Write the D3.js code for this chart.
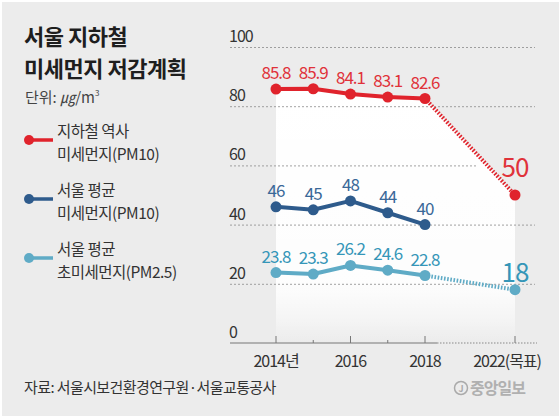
<!DOCTYPE html>
<html>
<head>
<meta charset="utf-8">
<script src="https://cdn.jsdelivr.net/npm/d3@7"></script>
<style>
  body { margin: 0; background: #fff; }
  svg text { font-family: "Noto Sans CJK KR", "Noto Sans", sans-serif; }
</style>
</head>
<body>
<div id="chart"></div>
<script>
// data
var years = [2014, 2015, 2016, 2017, 2018, 2022];
var subwayPM10 = [85.8, 85.9, 84.1, 83.1, 82.6, 50];
var seoulPM10 = [46, 45, 48, 44, 40];
var seoulPM25 = [23.8, 23.3, 26.2, 24.6, 22.8, 18];
var yTicks = [0, 20, 40, 60, 80, 100];
var xTickLabels = { 2014: '2014년', 2016: '2016', 2018: '2018', 2022: '2022(목표)' };

var W = 559, H = 416;
var bg = '#ececec';

var svg = d3.select('#chart').append('svg')
  .attr('width', W).attr('height', H);

svg.append('rect').attr('x', 2).attr('y', 2).attr('width', W - 2).attr('height', H - 2).attr('fill', bg);

// 2014-2018 evenly spaced, then a shorter stretch to the 2022 target
var x = d3.scaleLinear().domain([2014, 2018, 2022]).range([276, 425, 515]);
var y = d3.scaleLinear().domain([0, 100]).range([343, 47]);

var defs = svg.append('defs');
var grad = defs.append('linearGradient').attr('id', 'fade')
  .attr('x1', 0).attr('y1', 0).attr('x2', 0).attr('y2', 1);
grad.append('stop').attr('offset', '0%').attr('stop-color', '#fff').attr('stop-opacity', 1);
grad.append('stop').attr('offset', '75%').attr('stop-color', '#fff').attr('stop-opacity', 0.9);
grad.append('stop').attr('offset', '100%').attr('stop-color', '#fff').attr('stop-opacity', 0);

var grad2 = defs.append('linearGradient').attr('id', 'fade2')
  .attr('x1', 0).attr('y1', 0).attr('x2', 0).attr('y2', 1);
grad2.append('stop').attr('offset', '0%').attr('stop-color', '#fff').attr('stop-opacity', 0.5);
grad2.append('stop').attr('offset', '100%').attr('stop-color', '#fff').attr('stop-opacity', 0);

var pts = function (vals) {
  return vals.map(function (v, i) { return { yr: years[i], v: v }; });
};
var red = pts(subwayPM10), blue = pts(seoulPM10), light = pts(seoulPM25);

// white fading area under the lines
var area = d3.area().x(function (d) { return x(d.yr); }).y0(y(0)).y1(function (d) { return y(d.v); });
svg.append('path').attr('d', area(red)).attr('fill', 'url(#fade)');
svg.append('path').attr('d', area(light)).attr('fill', 'url(#fade2)');

// grid lines
var gridEnd = function (t) {
  if (t === 60) {
    // stop before the "50" label
    return x(2018) + (x(2022) - x(2018)) * (subwayPM10[4] - 60) / (subwayPM10[4] - subwayPM10[5]) - 10;
  }
  return 535;
};
svg.selectAll('.grid').data(yTicks.filter(function (t) { return t > 0; })).enter()
  .append('line')
  .attr('x1', 230).attr('x2', gridEnd)
  .attr('y1', function (d) { return y(d) + 0.5; }).attr('y2', function (d) { return y(d) + 0.5; })
  .attr('stroke', '#8a8a8a').attr('stroke-width', 0.8).attr('stroke-dasharray', '2,2');

svg.selectAll('.ylab').data(yTicks).enter()
  .append('text')
  .attr('x', 229).attr('y', function (d) { return y(d) - 5; })
  .attr('font-size', 16).attr('fill', '#333').attr('letter-spacing', -1)
  .text(function (d) { return d; });

// x axis: solid up to 2018, dotted after
svg.append('line').attr('x1', 230).attr('x2', x(2018) + 12)
  .attr('y1', y(0)).attr('y2', y(0)).attr('stroke', '#777').attr('stroke-width', 1.2);
svg.append('line').attr('x1', x(2018) + 12).attr('x2', 537)
  .attr('y1', y(0)).attr('y2', y(0)).attr('stroke', '#888').attr('stroke-width', 1.2)
  .attr('stroke-dasharray', '1.5,1.5');

svg.selectAll('.xtick').data(years).enter()
  .append('line')
  .attr('x1', function (d) { return x(d); }).attr('x2', function (d) { return x(d); })
  .attr('y1', function (d) { return xTickLabels[d] ? y(0) - 7 : y(0) - 3; }).attr('y2', y(0))
  .attr('stroke', '#777').attr('stroke-width', 1);

svg.selectAll('.xlab').data(years.filter(function (d) { return xTickLabels[d]; })).enter()
  .append('text')
  .attr('x', function (d) { return d === 2022 ? 541 : x(d); }).attr('y', 367)
  .attr('text-anchor', function (d) { return d === 2022 ? 'end' : 'middle'; })
  .attr('font-size', 16).attr('fill', '#333').attr('letter-spacing', -1)
  .text(function (d) { return xTickLabels[d]; });

var line = d3.line().x(function (d) { return x(d.yr); }).y(function (d) { return y(d.v); });

function drawSeries(data, color, textColor, targetLift) {
  var solid = data.filter(function (d) { return d.yr <= 2018; });
  var future = data.filter(function (d) { return d.yr >= 2018; });
  if (future.length > 1) {
    svg.append('path').attr('d', line(future)).attr('fill', 'none')
      .attr('stroke', color).attr('stroke-width', 4).attr('stroke-dasharray', '1.6,1.6');
  }
  svg.append('path').attr('d', line(solid)).attr('fill', 'none')
    .attr('stroke', color).attr('stroke-width', 4).attr('stroke-linejoin', 'round');
  svg.selectAll(null).data(data).enter().append('circle')
    .attr('cx', function (d) { return x(d.yr); }).attr('cy', function (d) { return y(d.v); })
    .attr('r', 5.5).attr('fill', color);
  svg.selectAll(null).data(data).enter().append('text')
    .attr('x', function (d) { return x(d.yr); })
    .attr('y', function (d) { return y(d.v) - (d.yr === 2022 ? targetLift : 10); })
    .attr('text-anchor', 'middle')
    .attr('font-size', function (d) { return d.yr === 2022 ? 26 : 17; })
    .attr('letter-spacing', -1)
    .attr('fill', textColor)
    .text(function (d) { return d.v; });
}

drawSeries(red, '#e0232c', '#e0323a', 18);
drawSeries(blue, '#2e5b8c', '#3a6898', 18);
drawSeries(light, '#5fabc6', '#3596b8', 8);

// title block
svg.append('text').attr('x', 24).attr('y', 45).attr('font-size', 22).attr('font-weight', 700)
  .attr('fill', '#1e1e1e').attr('letter-spacing', -0.5).text('서울 지하철');
svg.append('text').attr('x', 24).attr('y', 77).attr('font-size', 22).attr('font-weight', 700)
  .attr('fill', '#1e1e1e').attr('letter-spacing', -0.5).text('미세먼지 저감계획');
var unit = svg.append('text').attr('x', 25).attr('y', 103).attr('font-size', 15).attr('fill', '#444');
unit.append('tspan').text('단위: ');
unit.append('tspan').attr('font-style', 'italic').text('㎍');
unit.append('tspan').text('/m');
unit.append('tspan').attr('font-size', 8).attr('dy', -7).text('3');

// legend
var legend = [
  { y: 140, color: '#e0232c', lines: ['지하철 역사', '미세먼지(PM10)'] },
  { y: 199, color: '#2e5b8c', lines: ['서울 평균', '미세먼지(PM10)'] },
  { y: 258, color: '#5fabc6', lines: ['서울 평균', '초미세먼지(PM2.5)'] }
];
var lg = svg.selectAll('.lg').data(legend).enter().append('g');
lg.append('line').attr('x1', 28).attr('x2', 53)
  .attr('y1', function (d) { return d.y; }).attr('y2', function (d) { return d.y; })
  .attr('stroke', function (d) { return d.color; }).attr('stroke-width', 3.5);
lg.append('circle').attr('cx', 29).attr('cy', function (d) { return d.y; }).attr('r', 5)
  .attr('fill', function (d) { return d.color; });
lg.append('text').attr('x', 57).attr('y', function (d) { return d.y - 3; })
  .attr('font-size', 15.5).attr('fill', '#333').attr('letter-spacing', -0.5)
  .text(function (d) { return d.lines[0]; });
lg.append('text').attr('x', 57).attr('y', function (d) { return d.y + 20; })
  .attr('font-size', 15.5).attr('fill', '#333').attr('letter-spacing', -0.5)
  .text(function (d) { return d.lines[1]; });

// source + logo
svg.append('text').attr('x', 24).attr('y', 393).attr('font-size', 15).attr('fill', '#333')
  .attr('letter-spacing', -0.6).text('자료: 서울시보건환경연구원·서울교통공사');
svg.append('circle').attr('cx', 461).attr('cy', 388).attr('r', 6.5)
  .attr('fill', 'none').attr('stroke', '#aaa').attr('stroke-width', 1.5);
svg.append('text').attr('x', 461).attr('y', 392).attr('text-anchor', 'middle')
  .attr('font-size', 9).attr('font-weight', 700).attr('fill', '#aaa').text('J');
svg.append('text').attr('x', 470).attr('y', 394).attr('font-size', 16).attr('font-weight', 700)
  .attr('fill', '#b0b0b0').attr('letter-spacing', -1).text('중앙일보');
</script>
</body>
</html>
